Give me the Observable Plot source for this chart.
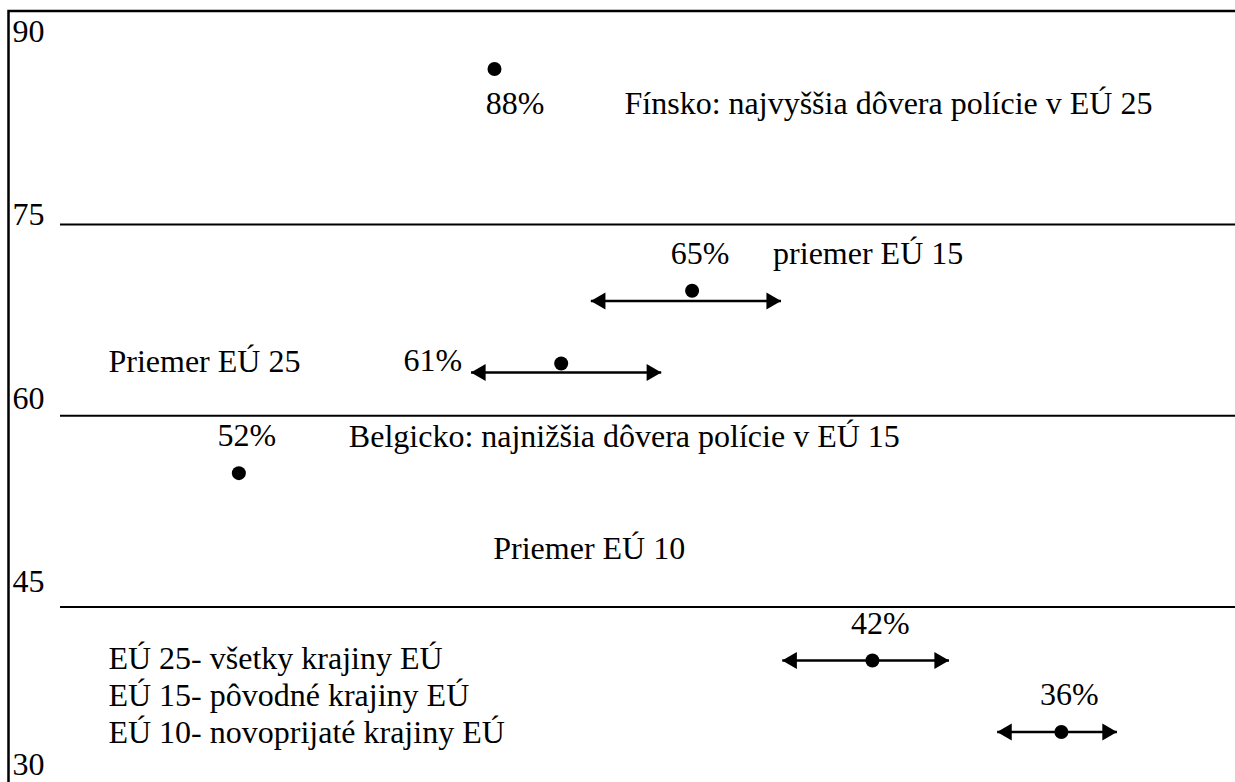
<!DOCTYPE html>
<html><head><meta charset="utf-8">
<script src="https://cdn.jsdelivr.net/npm/d3@7"></script>
<script src="https://cdn.jsdelivr.net/npm/@observablehq/plot@0.6"></script>
<style>html,body{margin:0;padding:0;background:#fff;} svg{display:block;} svg text{font-family:"Liberation Serif","Times New Roman",serif;}</style>
</head><body><div id="chart"></div>
<script>
// Point data
const pointLabels = ["88%", "65%", "61%", "52%", "42%", "36%"];
const pointValues = [88, 65, 61, 52, 42, 36];
const pointX = [40.0, 56.0, 45.4, 19.3, 70.6, 85.9];
const pointY = [87.2, 69.8, 64.1, 55.5, 40.8, 35.2];
const rangeY = [null, 69.0, 63.4, null, 40.8, 35.2];
const rangeLow = [null, 47.8, 38.1, null, 63.3, 80.7];
const rangeHigh = [null, 63.2, 53.5, null, 76.8, 90.4];
const gridValues = [75, 60, 45];
const tickValues = [90, 75, 60, 45, 30];
const noteFinland = "Fínsko: najvyššia dôvera polície v EÚ 25";
const noteEU15 = "priemer EÚ 15";
const noteEU25 = "Priemer EÚ 25";
const noteBelgium = "Belgicko: najnižšia dôvera polície v EÚ 15";
const noteEU10 = "Priemer EÚ 10";
const legendLines = ["EÚ 25- všetky krajiny EÚ", "EÚ 15- pôvodné krajiny EÚ", "EÚ 10- novoprijaté krajiny EÚ"];

const points = pointLabels.map((label, i) => ({
  label, value: pointValues[i], x: pointX[i], y: pointY[i],
  ry: rangeY[i], lo: rangeLow[i], hi: rangeHigh[i]
}));
const ranges = points.filter(d => d.lo != null);
const byLabel = l => points.filter(d => d.label === l);

const font = "Liberation Serif";
const fs = 32;
const T = {fontSize: fs, fontFamily: font, fill: "black"};

const chart = Plot.plot({
  width: 1235,
  height: 782,
  marginLeft: 8,
  marginTop: 10.5,
  marginRight: 0,
  marginBottom: 0,
  x: {domain: [0, 100], range: [0, 1235], axis: null},
  y: {domain: [30, 90], range: [797.75, 32.75], axis: null},
  style: {fontFamily: font, fontSize: "32px", color: "black", background: "white"},
  marks: [
    Plot.frame({stroke: "black", strokeWidth: 2.5, insetRight: -10, insetBottom: -10}),
    Plot.ruleY(gridValues, {x1: 4.86, x2: 101, stroke: "black", strokeWidth: 2}),
    Plot.text(tickValues, {
      y: d => 90 - (90 - d) * 0.958, text: d => String(d),
      frameAnchor: "left", textAnchor: "start", dx: 4, dy: -1.25, ...T
    }),
    // range arrows
    Plot.link(ranges, {x1: "lo", x2: "hi", y1: "ry", y2: "ry", stroke: "black", strokeWidth: 2.5}),
    Plot.dot(ranges, {x: "hi", y: "ry", symbol: "triangle", r: 6.3, rotate: 90, dx: -9.7, fill: "black", stroke: "none"}),
    Plot.dot(ranges, {x: "lo", y: "ry", symbol: "triangle", r: 6.3, rotate: -90, dx: 9.7, fill: "black", stroke: "none"}),
    // points
    Plot.dot(points, {x: "x", y: "y", r: 7, fill: "black", stroke: "none"}),
    // value labels
    Plot.text(byLabel("88%"), {x: "x", y: "y", text: "label", dx: 20.5, dy: 35, ...T}),
    Plot.text(byLabel("61%"), {x: "x", y: "y", text: "label", textAnchor: "end", dx: -99, dy: -3, ...T}),
    Plot.text(points.filter(d => !["88%", "61%"].includes(d.label)), {x: "x", y: "y", text: "label", dx: 8, dy: -37, ...T}),
    // notes
    Plot.text(byLabel("88%"), {x: "x", y: "y", text: () => noteFinland, textAnchor: "start", dx: 130, dy: 35, ...T}),
    Plot.text(byLabel("65%"), {x: "x", y: "y", text: () => noteEU15, textAnchor: "start", dx: 81, dy: -37, ...T}),
    Plot.text(byLabel("52%"), {x: "x", y: "y", text: () => noteBelgium, textAnchor: "start", dx: 110, dy: -36, ...T}),
    Plot.text([noteEU25], {x: 8.74, y: 64.2, text: d => d, textAnchor: "start", ...T}),
    Plot.text([noteEU10], {x: 39.9, y: 49.6, text: d => d, textAnchor: "start", ...T}),
    Plot.text([legendLines.join("\n")], {x: 8.74, y: 38.14, text: d => d, textAnchor: "start", lineHeight: 1.156, ...T})
  ]
});
document.getElementById("chart").appendChild(chart);
</script>
</body></html>
